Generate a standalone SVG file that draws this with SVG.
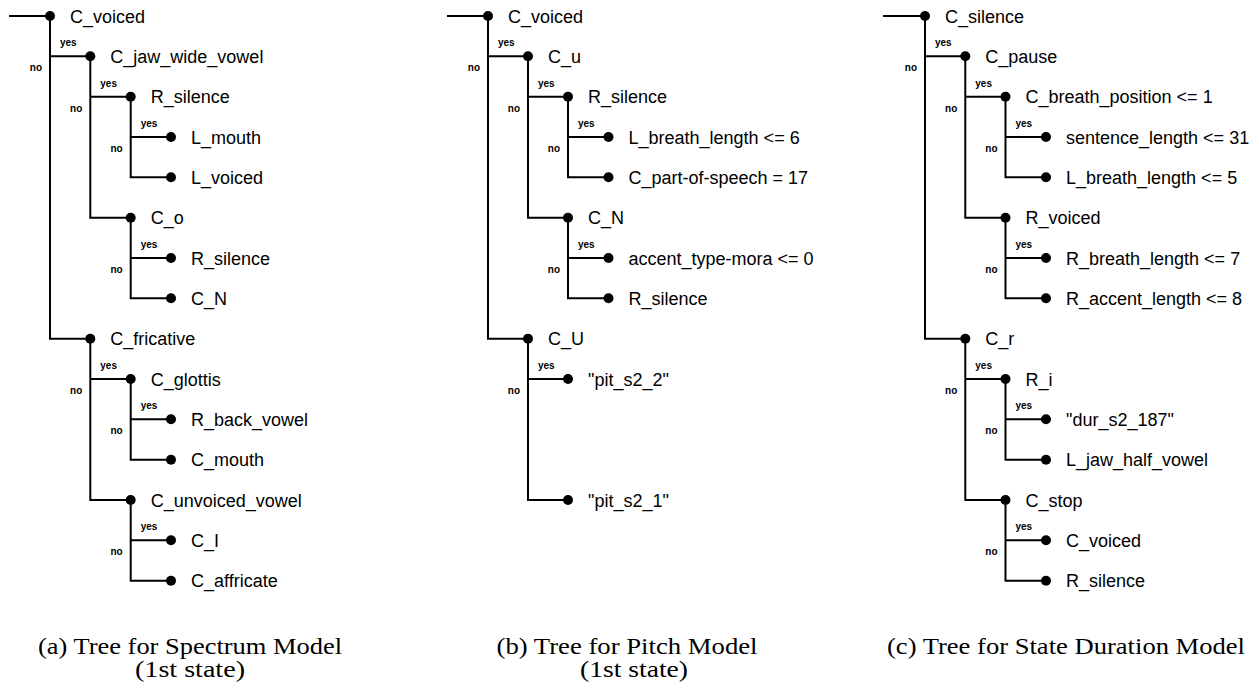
<svg xmlns="http://www.w3.org/2000/svg" width="1259" height="695" viewBox="0 0 1259 695">
<style>
.e{fill:none;stroke:#000;stroke-width:2}
.d{fill:#000}
.t{font-family:"Liberation Sans",Arial,sans-serif;font-size:18px;fill:#000}
.y{font-family:"Liberation Sans",Arial,sans-serif;font-size:10px;font-weight:bold;fill:#000}
.n{font-family:"Liberation Sans",Arial,sans-serif;font-size:10px;font-weight:bold;fill:#000;text-anchor:end}
.c{font-family:"Liberation Serif","Times New Roman",serif;font-size:23px;fill:#000;text-anchor:middle}
</style>
<rect width="1259" height="695" fill="#fff"/>
<g id="connectors">
<!-- tree a -->
<path class="e" d="M9,16 H50"/>
<path class="e" d="M50,16 V338.7 H90.3 M50,56.3 H90.3"/>
<path class="e" d="M90.3,56.3 V217.7 H130.7 M90.3,96.7 H130.7"/>
<path class="e" d="M130.7,96.7 V177.3 H171 M130.7,137 H171"/>
<path class="e" d="M130.7,217.7 V298.3 H171 M130.7,258 H171"/>
<path class="e" d="M90.3,338.7 V500 H130.7 M90.3,379 H130.7"/>
<path class="e" d="M130.7,379 V459.7 H171 M130.7,419.3 H171"/>
<path class="e" d="M130.7,500 V580.7 H171 M130.7,540.3 H171"/>
<text class="y" x="60" y="46.3">yes</text><text class="n" x="42" y="71.3">no</text>
<text class="y" x="100.3" y="86.7">yes</text><text class="n" x="82.3" y="111.7">no</text>
<text class="y" x="140.7" y="127">yes</text><text class="n" x="122.7" y="152">no</text>
<text class="y" x="140.7" y="248">yes</text><text class="n" x="122.7" y="273">no</text>
<text class="y" x="100.3" y="369">yes</text><text class="n" x="82.3" y="394">no</text>
<text class="y" x="140.7" y="409.3">yes</text><text class="n" x="122.7" y="434.3">no</text>
<text class="y" x="140.7" y="530.3">yes</text><text class="n" x="122.7" y="555.3">no</text>
<!-- tree b -->
<path class="e" d="M447,16 H488"/>
<path class="e" d="M488,16 V338.7 H528 M488,56.3 H528"/>
<path class="e" d="M528,56.3 V217.7 H568 M528,96.7 H568"/>
<path class="e" d="M568,96.7 V177.3 H608.5 M568,137 H608.5"/>
<path class="e" d="M568,217.7 V298.3 H608.5 M568,258 H608.5"/>
<path class="e" d="M528,338.7 V500 H568 M528,379 H568"/>
<text class="y" x="498" y="46.3">yes</text><text class="n" x="480" y="71.3">no</text>
<text class="y" x="538" y="86.7">yes</text><text class="n" x="520" y="111.7">no</text>
<text class="y" x="578" y="127">yes</text><text class="n" x="560" y="152">no</text>
<text class="y" x="578" y="248">yes</text><text class="n" x="560" y="273">no</text>
<text class="y" x="538" y="369">yes</text><text class="n" x="520" y="394">no</text>
<!-- tree c -->
<path class="e" d="M883,16 H925"/>
<path class="e" d="M925,16 V338.7 H965.3 M925,56.3 H965.3"/>
<path class="e" d="M965.3,56.3 V217.7 H1005.5 M965.3,96.7 H1005.5"/>
<path class="e" d="M1005.5,96.7 V177.3 H1046 M1005.5,137 H1046"/>
<path class="e" d="M1005.5,217.7 V298.3 H1046 M1005.5,258 H1046"/>
<path class="e" d="M965.3,338.7 V500 H1005.5 M965.3,379 H1005.5"/>
<path class="e" d="M1005.5,379 V459.7 H1046 M1005.5,419.3 H1046"/>
<path class="e" d="M1005.5,500 V580.7 H1046 M1005.5,540.3 H1046"/>
<text class="y" x="935" y="46.3">yes</text><text class="n" x="917" y="71.3">no</text>
<text class="y" x="975.3" y="86.7">yes</text><text class="n" x="957.3" y="111.7">no</text>
<text class="y" x="1015.5" y="127">yes</text><text class="n" x="997.5" y="152">no</text>
<text class="y" x="1015.5" y="248">yes</text><text class="n" x="997.5" y="273">no</text>
<text class="y" x="975.3" y="369">yes</text><text class="n" x="957.3" y="394">no</text>
<text class="y" x="1015.5" y="409.3">yes</text><text class="n" x="997.5" y="434.3">no</text>
<text class="y" x="1015.5" y="530.3">yes</text><text class="n" x="997.5" y="555.3">no</text>
</g>
<!-- tree a nodes -->
<g id="a0"><circle class="d" cx="50" cy="16" r="5"/><text class="t" x="70" y="22.5">C_voiced</text></g>
<g id="a1"><circle class="d" cx="90.3" cy="56.3" r="5"/><text class="t" x="110.3" y="62.8">C_jaw_wide_vowel</text></g>
<g id="a2"><circle class="d" cx="130.7" cy="96.7" r="5"/><text class="t" x="150.7" y="103.2">R_silence</text></g>
<g id="a3"><circle class="d" cx="171" cy="137" r="5"/><text class="t" x="191" y="143.5">L_mouth</text></g>
<g id="a4"><circle class="d" cx="171" cy="177.3" r="5"/><text class="t" x="191" y="183.8">L_voiced</text></g>
<g id="a5"><circle class="d" cx="130.7" cy="217.7" r="5"/><text class="t" x="150.7" y="224.2">C_o</text></g>
<g id="a6"><circle class="d" cx="171" cy="258" r="5"/><text class="t" x="191" y="264.5">R_silence</text></g>
<g id="a7"><circle class="d" cx="171" cy="298.3" r="5"/><text class="t" x="191" y="304.8">C_N</text></g>
<g id="a8"><circle class="d" cx="90.3" cy="338.7" r="5"/><text class="t" x="110.3" y="345.2">C_fricative</text></g>
<g id="a9"><circle class="d" cx="130.7" cy="379" r="5"/><text class="t" x="150.7" y="385.5">C_glottis</text></g>
<g id="a10"><circle class="d" cx="171" cy="419.3" r="5"/><text class="t" x="191" y="425.8">R_back_vowel</text></g>
<g id="a11"><circle class="d" cx="171" cy="459.7" r="5"/><text class="t" x="191" y="466.2">C_mouth</text></g>
<g id="a12"><circle class="d" cx="130.7" cy="500" r="5"/><text class="t" x="150.7" y="506.5">C_unvoiced_vowel</text></g>
<g id="a13"><circle class="d" cx="171" cy="540.3" r="5"/><text class="t" x="191" y="546.8">C_I</text></g>
<g id="a14"><circle class="d" cx="171" cy="580.7" r="5"/><text class="t" x="191" y="587.2">C_affricate</text></g>
<!-- tree b nodes -->
<g id="b0"><circle class="d" cx="488" cy="16" r="5"/><text class="t" x="508" y="22.5">C_voiced</text></g>
<g id="b1"><circle class="d" cx="528" cy="56.3" r="5"/><text class="t" x="548" y="62.8">C_u</text></g>
<g id="b2"><circle class="d" cx="568" cy="96.7" r="5"/><text class="t" x="588" y="103.2">R_silence</text></g>
<g id="b3"><circle class="d" cx="608.5" cy="137" r="5"/><text class="t" x="628.5" y="143.5">L_breath_length &lt;= 6</text></g>
<g id="b4"><circle class="d" cx="608.5" cy="177.3" r="5"/><text class="t" x="628.5" y="183.8">C_part-of-speech = 17</text></g>
<g id="b5"><circle class="d" cx="568" cy="217.7" r="5"/><text class="t" x="588" y="224.2">C_N</text></g>
<g id="b6"><circle class="d" cx="608.5" cy="258" r="5"/><text class="t" x="628.5" y="264.5">accent_type-mora &lt;= 0</text></g>
<g id="b7"><circle class="d" cx="608.5" cy="298.3" r="5"/><text class="t" x="628.5" y="304.8">R_silence</text></g>
<g id="b8"><circle class="d" cx="528" cy="338.7" r="5"/><text class="t" x="548" y="345.2">C_U</text></g>
<g id="b9"><circle class="d" cx="568" cy="379" r="5"/><text class="t" x="588" y="385.5">"pit_s2_2"</text></g>
<g id="b10"><circle class="d" cx="568" cy="500" r="5"/><text class="t" x="588" y="506.5">"pit_s2_1"</text></g>
<!-- tree c nodes -->
<g id="c0"><circle class="d" cx="925" cy="16" r="5"/><text class="t" x="945" y="22.5">C_silence</text></g>
<g id="c1"><circle class="d" cx="965.3" cy="56.3" r="5"/><text class="t" x="985.3" y="62.8">C_pause</text></g>
<g id="c2"><circle class="d" cx="1005.5" cy="96.7" r="5"/><text class="t" x="1025.5" y="103.2">C_breath_position &lt;= 1</text></g>
<g id="c3"><circle class="d" cx="1046" cy="137" r="5"/><text class="t" x="1066" y="143.5">sentence_length &lt;= 31</text></g>
<g id="c4"><circle class="d" cx="1046" cy="177.3" r="5"/><text class="t" x="1066" y="183.8">L_breath_length &lt;= 5</text></g>
<g id="c5"><circle class="d" cx="1005.5" cy="217.7" r="5"/><text class="t" x="1025.5" y="224.2">R_voiced</text></g>
<g id="c6"><circle class="d" cx="1046" cy="258" r="5"/><text class="t" x="1066" y="264.5">R_breath_length &lt;= 7</text></g>
<g id="c7"><circle class="d" cx="1046" cy="298.3" r="5"/><text class="t" x="1066" y="304.8">R_accent_length &lt;= 8</text></g>
<g id="c8"><circle class="d" cx="965.3" cy="338.7" r="5"/><text class="t" x="985.3" y="345.2">C_r</text></g>
<g id="c9"><circle class="d" cx="1005.5" cy="379" r="5"/><text class="t" x="1025.5" y="385.5">R_i</text></g>
<g id="c10"><circle class="d" cx="1046" cy="419.3" r="5"/><text class="t" x="1066" y="425.8">"dur_s2_187"</text></g>
<g id="c11"><circle class="d" cx="1046" cy="459.7" r="5"/><text class="t" x="1066" y="466.2">L_jaw_half_vowel</text></g>
<g id="c12"><circle class="d" cx="1005.5" cy="500" r="5"/><text class="t" x="1025.5" y="506.5">C_stop</text></g>
<g id="c13"><circle class="d" cx="1046" cy="540.3" r="5"/><text class="t" x="1066" y="546.8">C_voiced</text></g>
<g id="c14"><circle class="d" cx="1046" cy="580.7" r="5"/><text class="t" x="1066" y="587.2">R_silence</text></g>
<!-- captions -->
<g id="captions">
<text class="c" x="190" y="654" textLength="304" lengthAdjust="spacingAndGlyphs">(a) Tree for Spectrum Model</text>
<text class="c" x="190" y="677" textLength="110" lengthAdjust="spacingAndGlyphs">(1st state)</text>
<text class="c" x="627" y="654" textLength="261" lengthAdjust="spacingAndGlyphs">(b) Tree for Pitch Model</text>
<text class="c" x="634" y="677" textLength="108" lengthAdjust="spacingAndGlyphs">(1st state)</text>
<text class="c" x="1066" y="654" textLength="358" lengthAdjust="spacingAndGlyphs">(c) Tree for State Duration Model</text>
</g>
</svg>
